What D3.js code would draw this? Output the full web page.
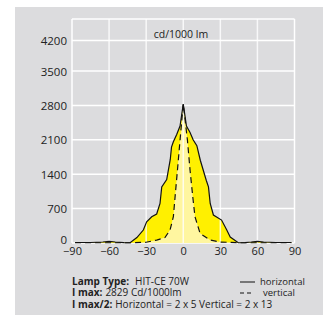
<!DOCTYPE html>
<html>
<head>
<meta charset="utf-8">
<script src="https://cdn.jsdelivr.net/npm/d3@7"></script>
<style>
body { margin: 0; background: #fff; }
text { font-family: "Open Sans", Lato, sans-serif; fill: #222; }
</style>
</head>
<body>
<svg id="chart"></svg>
<script>
// light distribution curve, cd/1000 lm
var xTicks = [-90, -60, -30, 0, 30, 60, 90];
var yTicks = [0, 700, 1400, 2100, 2800, 3500, 4200];

// horizontal plane (solid)
var horizAngles = [-87.5, -75, -65, -60, -55, -48, -43, -37.5, -32.3, -29.6, -25.5, -21.5, -18.8, -17.4, -13.4, -10.5, -9.5, -8, -5.3, -2.6, 0,
                   2.6, 5.5, 8, 11, 13.8, 18.6, 20.4, 21.8, 24.4, 31, 35.2, 38, 44.5, 50, 55, 60, 65, 75, 87.5];
var horizValues = [10, 10, 20, 35, 20, 8, 5, 110, 264, 432, 534, 590, 805, 1142, 1290, 1700, 1950, 2060, 2210, 2380, 2829,
                   2380, 2250, 2100, 1980, 1684, 1278, 1142, 805, 570, 467, 264, 120, 5, 8, 20, 35, 20, 10, 10];

// vertical plane (dashed)
var vertAngles = [-87.5, -40, -30, -21.5, -14.8, -10.7, -8, -6.6, -4.7, -2.6, 0, 3.4, 5.5, 7.7, 9.5, 13.6, 21.7, 30, 45, 87.5];
var vertValues = [5, 5, 15, 60, 110, 264, 534, 940, 1481, 2090, 2829, 2090, 1481, 940, 534, 196, 61, 20, 5, 5];

var width = 323, height = 315;
var plotTop = 19;

var svg = d3.select("#chart")
    .attr("width", width)
    .attr("height", height);

var x = d3.scaleLinear()
    .domain([-90, 90])
    .range([72, 294.5]);

var y = d3.scaleLinear()
    .domain([0, 3500, 4200])
    .range([243, 71, 40.5]);

svg.append("rect")
    .attr("x", 15).attr("y", 7)
    .attr("width", 308).attr("height", 308)
    .attr("fill", "#dcdcde");

// horizontal grid + frame top
svg.selectAll(".hgrid")
    .data(yTicks.concat(["top"]))
  .enter().append("line")
    .attr("class", "hgrid")
    .attr("x1", x(-90)).attr("x2", x(90))
    .attr("y1", function(d) { return d === "top" ? plotTop : y(d); })
    .attr("y2", function(d) { return d === "top" ? plotTop : y(d); })
    .attr("stroke", "#fff")
    .attr("stroke-width", 1.5);

var horiz = horizAngles.map(function(a, i) { return [a, horizValues[i]]; });
var vert = vertAngles.map(function(a, i) { return [a, vertValues[i]]; });

var area = d3.area()
    .x(function(d) { return x(d[0]); })
    .y0(y(0))
    .y1(function(d) { return y(d[1]); });

var line = d3.line()
    .x(function(d) { return x(d[0]); })
    .y(function(d) { return y(d[1]); });

svg.append("path").datum(horiz)
    .attr("d", area)
    .attr("fill", "#fff000");

svg.append("path").datum(vert)
    .attr("d", area)
    .attr("fill", "#fff6a0");

// vertical grid shows through the fills
svg.selectAll(".vgrid")
    .data(xTicks)
  .enter().append("line")
    .attr("class", "vgrid")
    .attr("x1", function(d) { return x(d); })
    .attr("x2", function(d) { return x(d); })
    .attr("y1", plotTop).attr("y2", y(0))
    .attr("stroke", "#fff")
    .attr("stroke-opacity", function(d) { return d === -90 || d === 90 ? 1 : 0.8; })
    .attr("stroke-width", 1.5);

svg.append("path").datum(horiz)
    .attr("d", line)
    .attr("fill", "none")
    .attr("stroke", "#111")
    .attr("stroke-width", 1.2);

svg.append("path").datum(vert)
    .attr("d", line)
    .attr("fill", "none")
    .attr("stroke", "#111")
    .attr("stroke-width", 1.2)
    .attr("stroke-dasharray", "6,4");

// axes, labels only
var xAxis = svg.append("g")
    .attr("transform", "translate(0,247)")
    .call(d3.axisBottom(x).tickValues(xTicks).tickFormat(d3.format("d")).tickSize(0).tickPadding(0));
xAxis.select(".domain").remove();
xAxis.selectAll("text")
    .attr("dy", "0.71em")
    .style("font-size", "11px")
    .style("font-family", "'Open Sans', sans-serif")
    .attr("fill", "#222");

var yAxis = svg.append("g")
    .attr("transform", "translate(67,0)")
    .call(d3.axisLeft(y).tickValues(yTicks).tickFormat(d3.format("d")).tickSize(0).tickPadding(0));
yAxis.select(".domain").remove();
yAxis.selectAll("text")
    .attr("dy", function(d) { return d === 0 ? "0" : "0.35em"; })
    .style("font-size", "11.5px")
    .style("font-family", "'Open Sans', sans-serif")
    .attr("fill", "#222");

svg.append("text")
    .attr("x", 181).attr("y", 37.5)
    .attr("text-anchor", "middle")
    .style("font-size", "10.5px")
    .text("cd/1000 lm");

// info block
var infoLabels = ["Lamp Type:", "I max:", "I max/2:"];
var infoValues = ["HIT-CE 70W", "2829 Cd/1000lm", "Horizontal = 2 x 5 Vertical = 2 x 13"];
var infoY = [285, 296, 307.5];
var infoGap = [6, 3, 3];

infoLabels.forEach(function(label, i) {
  var b = svg.append("text")
      .attr("x", 72)
      .attr("y", infoY[i])
      .style("font-size", "10px")
      .style("font-weight", "bold")
      .text(label);
  var w = b.node().getComputedTextLength();
  svg.append("text")
      .attr("x", 72 + w + infoGap[i])
      .attr("y", infoY[i])
      .style("font-size", "10px")
      .text(infoValues[i]);
});

// legend
svg.append("line")
    .attr("x1", 240).attr("x2", 255)
    .attr("y1", 282).attr("y2", 282)
    .attr("stroke", "#111").attr("stroke-width", 1);
svg.append("text")
    .attr("x", 260).attr("y", 285)
    .style("font-size", "9.5px")
    .text("horizontal");
svg.append("line")
    .attr("x1", 240).attr("x2", 252)
    .attr("y1", 293).attr("y2", 293)
    .attr("stroke", "#111").attr("stroke-width", 1)
    .attr("stroke-dasharray", "4,3");
svg.append("text")
    .attr("x", 263).attr("y", 296)
    .style("font-size", "9.5px")
    .text("vertical");
</script>
</body>
</html>
